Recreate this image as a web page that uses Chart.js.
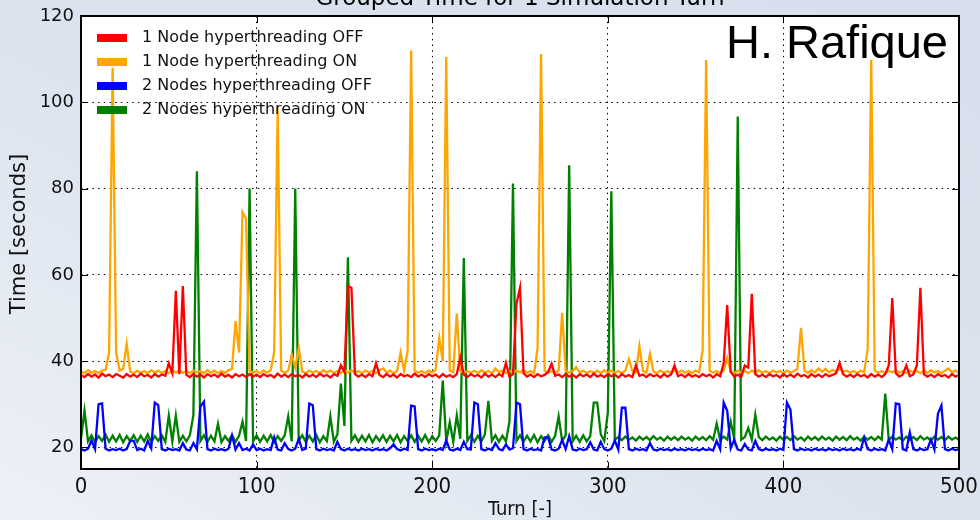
<!DOCTYPE html>
<html>
<head>
<meta charset="utf-8">
<script src="https://cdn.jsdelivr.net/npm/chart.js@4.4.1/dist/chart.umd.min.js"></script>
<style>
  html, body { margin: 0; padding: 0; }
  body {
    width: 980px; height: 520px; overflow: hidden;
    background: linear-gradient(to bottom left, #d7dfec 0%, #dde4ef 55%, #edf1f7 100%);
  }
  canvas { display: block; }
</style>
</head>
<body>
<canvas id="turnChart" width="980" height="520"></canvas>
<script>
// turn axis (every second turn sampled)
const turns = Array.from({ length: 251 }, (_, i) => i * 2);
const xTicks = [0, 100, 200, 300, 400, 500];
const yTicks = [20, 40, 60, 80, 100, 120];

const seriesLabels = [
  '1 Node hyperthreading OFF',
  '1 Node hyperthreading ON',
  '2 Nodes hyperthreading OFF',
  '2 Nodes hyperthreading ON'
];
const seriesColors = ['#ff0000', '#ffa500', '#0000ff', '#008000'];

const node1HtOff = [
  36.8, 36.3, 37.0, 36.4, 36.9, 36.2, 37.1, 36.5, 36.9, 36.3, 37.0, 36.6, 36.2, 37.0, 36.4, 36.9, 36.3, 37.1, 36.5, 36.8, 36.2, 37.0, 36.4, 36.9, 36.6,
  39.5, 37.2, 56.3, 37.0, 57.4, 36.8, 36.3, 37.0, 36.4, 36.9, 36.2, 37.0, 36.5, 36.9, 36.3, 37.1, 36.4, 36.8, 36.2, 37.0, 36.5, 36.9, 36.3, 37.0, 36.4,
  36.9, 36.3, 37.0, 36.5, 36.8, 36.2, 37.1, 36.4, 36.9, 36.3, 37.0, 36.5, 36.8, 36.2, 37.0, 36.4, 36.9, 36.3, 37.1, 36.5, 36.8, 36.2, 37.0, 36.6, 39.0,
  37.5, 57.4, 57.0, 37.0, 36.4, 36.9, 36.3, 37.0, 36.5, 39.5, 36.8, 36.3, 37.0, 36.4, 36.9, 36.2, 37.0, 36.5, 36.8, 36.3, 37.1, 36.4, 36.9, 36.3, 37.0,
  36.5, 36.9, 36.2, 37.0, 36.4, 36.8, 36.3, 37.0, 40.8, 36.9, 36.3, 37.0, 36.5, 36.8, 36.2, 37.1, 36.4, 36.9, 36.3, 37.0, 36.5, 39.6, 36.4, 37.0, 53.3,
  57.0, 37.2, 36.4, 36.9, 36.3, 37.0, 36.5, 36.8, 37.5, 39.4, 36.6, 36.9, 36.3, 37.0, 36.4, 36.8, 36.2, 37.0, 36.5, 36.9, 36.3, 37.1, 36.4, 36.8, 36.3,
  37.0, 36.5, 36.9, 36.2, 37.0, 36.4, 36.8, 36.3, 39.0, 36.6, 36.9, 36.3, 37.0, 36.5, 36.8, 36.2, 37.0, 36.4, 36.9, 39.0, 36.5, 36.9, 36.3, 37.0, 36.4,
  36.8, 36.3, 37.0, 36.5, 36.9, 36.2, 37.0, 36.5, 39.5, 53.0, 37.5, 36.4, 36.9, 36.3, 39.0, 38.5, 55.6, 37.0, 36.4, 36.9, 36.3, 37.0, 36.5, 36.8, 36.2,
  37.0, 36.4, 36.9, 36.3, 37.1, 36.5, 36.8, 36.2, 37.0, 36.4, 36.9, 36.3, 37.0, 36.5, 36.8, 37.2, 39.6, 37.0, 36.4, 36.9, 36.3, 37.0, 36.5, 36.8, 36.2,
  37.0, 36.4, 36.9, 36.3, 37.0, 39.0, 54.6, 37.2, 36.4, 36.9, 39.0, 36.5, 36.9, 39.0, 57.0, 37.0, 36.4, 36.9, 36.3, 37.0, 36.5, 36.8, 36.2, 37.0, 36.4,
  36.8
];

const node1HtOn = [
  37.6, 37.2, 37.9, 37.3, 37.7, 37.2, 37.8, 38.0, 42.0, 108.0, 42.0, 37.8, 38.2, 44.0, 37.6, 37.2, 37.8, 37.3, 37.7, 37.2, 37.9, 37.4, 37.8, 37.3, 37.7,
  37.2, 37.8, 37.4, 37.9, 37.3, 37.7, 37.2, 37.8, 37.4, 37.7, 37.2, 37.9, 37.3, 37.8, 37.2, 37.7, 37.3, 37.9, 38.2, 49.3, 42.0, 74.5, 73.0, 37.8, 37.3,
  37.7, 37.2, 37.8, 37.4, 37.9, 42.0, 98.5, 37.8, 37.3, 37.8, 41.5, 38.5, 43.0, 37.6, 37.2, 37.8, 37.3, 37.7, 37.2, 37.9, 37.4, 37.8, 37.3, 37.7, 37.2,
  37.8, 37.4, 37.9, 37.3, 37.7, 37.2, 37.8, 37.4, 37.7, 37.2, 37.9, 38.3, 37.4, 37.8, 37.2, 37.7, 42.0, 37.8, 42.4, 112.0, 37.8, 37.3, 37.7, 37.2, 37.8,
  37.4, 38.0, 45.4, 40.0, 110.5, 37.8, 37.4, 51.0, 37.8, 37.2, 37.7, 37.3, 37.8, 37.2, 37.9, 37.4, 37.7, 37.2, 38.3, 37.4, 37.8, 37.2, 37.7, 37.3, 37.8,
  37.4, 37.9, 37.3, 37.7, 37.2, 43.0, 111.2, 37.8, 37.3, 37.7, 37.2, 37.8, 51.2, 37.8, 37.3, 37.7, 38.6, 37.4, 37.8, 37.2, 37.7, 37.3, 37.8, 37.2, 37.9,
  37.4, 37.8, 37.3, 37.7, 37.2, 37.8, 40.5, 37.7, 37.4, 43.5, 37.8, 37.3, 41.7, 37.6, 37.2, 37.8, 37.3, 37.7, 37.2, 37.9, 37.4, 37.8, 37.3, 37.7, 37.2,
  37.8, 37.4, 42.4, 109.8, 37.8, 37.3, 37.7, 37.2, 37.8, 40.8, 37.6, 37.2, 37.8, 37.3, 37.7, 37.2, 37.8, 37.4, 37.9, 37.3, 37.7, 37.2, 37.8, 37.4, 37.7,
  37.2, 37.8, 37.3, 37.7, 38.2, 47.7, 37.8, 37.3, 37.9, 37.4, 38.3, 37.5, 38.2, 37.4, 38.0, 37.5, 38.3, 37.6, 37.8, 37.3, 37.7, 37.2, 37.8, 37.4, 42.9,
  109.8, 37.8, 37.3, 37.7, 37.2, 37.8, 37.4, 37.9, 37.3, 37.7, 37.2, 37.8, 37.4, 37.7, 37.2, 37.8, 37.3, 37.9, 37.4, 37.7, 37.2, 37.8, 38.3, 37.4, 37.8,
  37.3
];

const node2HtOff = [
  19.6, 19.3, 19.7, 21.6, 19.6, 30.0, 30.2, 19.7, 19.3, 19.6, 19.4, 19.7, 19.3, 19.6, 21.5, 21.5, 19.4, 19.7, 19.3, 21.5, 19.8, 30.4, 29.8, 19.6, 19.3,
  19.7, 19.4, 19.6, 19.3, 21.0, 19.5, 19.3, 21.0, 19.6, 29.5, 30.6, 19.6, 19.3, 19.7, 19.4, 19.6, 19.3, 19.7, 22.8, 19.5, 21.0, 19.4, 19.7, 19.3, 20.7,
  19.4, 19.7, 19.3, 19.6, 19.4, 22.3, 19.5, 19.3, 21.0, 19.6, 19.3, 19.7, 22.0, 19.4, 19.7, 30.2, 29.8, 19.6, 19.3, 19.7, 19.4, 19.6, 19.3, 21.3, 19.6,
  19.3, 19.7, 19.4, 19.6, 19.3, 19.7, 19.4, 19.6, 19.3, 19.7, 19.4, 19.6, 19.3, 19.8, 20.7, 19.6, 19.3, 19.7, 19.4, 29.7, 29.5, 19.6, 19.3, 19.7, 19.4,
  19.6, 19.3, 19.7, 19.4, 21.6, 19.5, 19.3, 19.7, 19.4, 21.3, 19.6, 19.5, 30.4, 30.0, 19.6, 19.3, 19.7, 19.4, 21.0, 19.6, 19.3, 20.7, 19.5, 19.8, 30.4,
  30.0, 19.6, 19.3, 19.7, 19.4, 19.6, 19.3, 22.3, 22.3, 19.5, 19.3, 19.7, 21.7, 19.6, 22.6, 19.5, 19.3, 19.7, 19.4, 19.6, 21.2, 19.5, 19.3, 21.3, 19.6,
  19.3, 19.7, 21.6, 19.5, 29.2, 29.2, 19.6, 19.3, 19.7, 19.4, 19.6, 19.3, 21.0, 19.5, 19.3, 19.7, 19.4, 19.6, 19.3, 19.7, 19.4, 19.6, 19.3, 19.7, 19.4,
  19.6, 19.3, 19.7, 19.4, 19.6, 19.3, 21.5, 19.6, 30.4, 28.5, 19.8, 21.8, 19.5, 19.3, 20.8, 19.5, 19.3, 21.5, 19.6, 19.3, 19.7, 19.4, 19.6, 19.3, 19.7,
  19.4, 30.4, 28.8, 19.6, 19.3, 19.7, 19.4, 19.6, 19.3, 19.7, 19.4, 19.6, 19.3, 19.7, 19.4, 19.6, 19.3, 19.7, 19.4, 19.6, 19.3, 19.7, 19.4, 22.3, 19.6,
  19.3, 19.7, 19.4, 19.6, 19.3, 21.8, 19.6, 30.2, 30.0, 19.6, 19.3, 23.5, 19.6, 19.3, 19.7, 19.4, 19.6, 21.8, 19.5, 27.8, 29.7, 19.6, 19.3, 19.7, 19.4,
  19.6
];

const node2HtOn = [
  22.0, 28.5, 21.4, 22.8, 21.2, 22.6, 21.5, 23.0, 21.3, 22.7, 21.4, 22.9, 21.2, 22.6, 21.5, 22.8, 21.3, 22.7, 21.4, 23.0, 21.2, 22.6, 21.5, 22.8, 21.3,
  27.4, 21.4, 27.4, 21.3, 22.7, 21.4, 22.8, 27.5, 84.0, 21.5, 22.8, 21.3, 22.7, 21.4, 25.5, 21.2, 22.6, 21.5, 22.8, 21.3, 22.7, 26.0, 21.5, 80.0, 21.4,
  22.8, 21.3, 22.7, 21.4, 22.9, 21.2, 22.6, 21.5, 22.8, 27.2, 21.4, 80.0, 21.5, 22.8, 21.3, 22.7, 21.4, 22.9, 21.2, 22.6, 21.5, 27.2, 21.3, 23.0, 34.8,
  25.0, 64.1, 21.5, 22.8, 21.3, 22.7, 21.4, 22.9, 21.2, 22.6, 21.5, 22.8, 21.3, 22.7, 21.4, 22.9, 21.2, 22.6, 21.5, 22.8, 21.3, 22.7, 21.4, 22.9, 21.2,
  22.6, 21.5, 22.8, 35.5, 21.4, 25.8, 21.3, 27.4, 22.0, 63.9, 21.5, 22.8, 21.3, 22.7, 21.4, 23.0, 30.8, 21.5, 22.8, 21.3, 22.7, 21.4, 26.0, 81.2, 21.5,
  22.8, 21.3, 22.7, 21.4, 22.9, 21.2, 22.6, 21.5, 22.8, 21.3, 22.7, 27.2, 21.5, 22.8, 85.4, 21.4, 22.7, 21.3, 22.8, 21.4, 22.6, 30.4, 30.4, 23.0, 21.5,
  28.0, 79.4, 21.8, 22.4, 21.7, 22.5, 21.8, 22.3, 21.6, 22.5, 21.8, 22.4, 21.7, 22.6, 21.8, 22.3, 21.6, 22.5, 21.8, 22.4, 21.7, 22.5, 21.8, 22.3, 21.6,
  22.5, 21.8, 22.4, 21.7, 22.6, 21.8, 25.5, 21.7, 22.5, 21.8, 26.0, 22.0, 96.7, 21.8, 22.4, 24.5, 21.8, 27.6, 22.4, 21.7, 22.5, 21.8, 22.3, 21.6, 22.5,
  21.8, 22.4, 21.7, 22.6, 21.8, 22.3, 21.6, 22.5, 21.8, 22.4, 21.7, 22.5, 21.8, 22.3, 21.6, 22.5, 21.8, 22.4, 21.7, 22.6, 21.8, 22.3, 21.6, 22.5, 21.8,
  22.4, 21.7, 22.5, 21.8, 32.5, 21.7, 22.5, 21.8, 22.3, 21.6, 22.5, 21.8, 22.4, 21.7, 22.6, 21.8, 22.3, 21.6, 22.5, 21.8, 22.4, 21.7, 22.5, 21.8, 22.3,
  21.8
];

const seriesValues = [node1HtOff, node1HtOn, node2HtOff, node2HtOn];

const framePlugin = {
  id: 'frame',
  beforeDraw(chart) {
    const { ctx, chartArea: a } = chart;
    ctx.save();
    ctx.fillStyle = '#ffffff';
    ctx.fillRect(a.left, a.top, a.right - a.left, a.bottom - a.top);
    ctx.restore();
  },
  afterDatasetsDraw(chart) {
    const { ctx, chartArea: a, scales } = chart;
    ctx.save();
    // inward tick marks on all four sides
    ctx.strokeStyle = '#000';
    ctx.lineWidth = 1;
    ctx.beginPath();
    xTicks.forEach(v => {
      const px = Math.round(scales.x.getPixelForValue(v)) + 0.5;
      ctx.moveTo(px, a.bottom); ctx.lineTo(px, a.bottom - 7);
      ctx.moveTo(px, a.top); ctx.lineTo(px, a.top + 7);
    });
    yTicks.forEach(v => {
      const py = Math.round(scales.y.getPixelForValue(v)) + 0.5;
      ctx.moveTo(a.left, py); ctx.lineTo(a.left + 7, py);
      ctx.moveTo(a.right, py); ctx.lineTo(a.right - 7, py);
    });
    ctx.stroke();
    ctx.lineWidth = 2;
    ctx.strokeRect(a.left, a.top, a.right - a.left, a.bottom - a.top);
    ctx.restore();
  },
  afterDraw(chart) {
    const { ctx, chartArea: a } = chart;
    ctx.save();
    // title, mostly cut off at the top edge
    ctx.fillStyle = '#000';
    ctx.font = '23px "DejaVu Sans"';
    ctx.textAlign = 'center';
    ctx.textBaseline = 'alphabetic';
    ctx.fillText('Grouped Time for 1 Simulation Turn', (a.left + a.right) / 2, 5);

    // y axis title
    ctx.save();
    ctx.translate(20, 234);
    ctx.rotate(-Math.PI / 2);
    ctx.fillStyle = '#111';
    ctx.font = '21px "DejaVu Sans"';
    ctx.textBaseline = 'middle';
    ctx.fillText('Time [seconds]', 0, 0);
    ctx.restore();

    // legend
    ctx.font = '16px "DejaVu Sans"';
    ctx.textAlign = 'left';
    ctx.textBaseline = 'middle';
    chart.data.datasets.forEach((ds, i) => {
      const y = a.top + 22 + i * 24;
      ctx.fillStyle = ds.borderColor;
      ctx.fillRect(a.left + 16, y - 4, 30, 8);
      ctx.fillStyle = '#111';
      ctx.fillText(ds.label, a.left + 61, y);
    });

    // watermark
    ctx.fillStyle = '#000';
    ctx.font = '47px "Liberation Sans", Arial, sans-serif';
    ctx.textAlign = 'right';
    ctx.textBaseline = 'alphabetic';
    ctx.fillText('H. Rafique', a.right - 11, 58);
    ctx.restore();
  }
};

const ctx = document.getElementById('turnChart').getContext('2d');

const chart = new Chart(ctx, {
  type: 'line',
  data: {
    datasets: seriesLabels.map((label, k) => ({
      label: label,
      data: turns.map((t, i) => ({ x: t, y: seriesValues[k][i] })),
      borderColor: seriesColors[k],
      backgroundColor: seriesColors[k],
      borderWidth: 2.3,
      pointRadius: 0,
      fill: false,
      tension: 0
    }))
  },
  options: {
    responsive: false,
    animation: false,
    layout: { padding: { top: 16, right: 21, bottom: 0, left: 0 } },
    plugins: {
      legend: { display: false },
      tooltip: { enabled: false },
      title: { display: false }
    },
    scales: {
      x: {
        type: 'linear',
        min: 0,
        max: 500,
        afterBuildTicks: (scale) => { scale.ticks = xTicks.map(v => ({ value: v })); },
        afterFit: (scale) => {
          scale.height = 51;
          scale.paddingLeft = 0;
          scale.paddingRight = 0;
        },
        grid: { color: '#000', lineWidth: 1, drawTicks: false },
        border: { display: false, dash: [1.5, 4.2] },
        ticks: {
          color: '#111',
          padding: 5,
          maxRotation: 0,
          font: { family: '"DejaVu Sans Condensed", "DejaVu Sans"', size: 22 }
        },
        title: {
          display: true,
          text: 'Turn [-]',
          color: '#111',
          padding: { bottom: 0 },
          font: { family: '"DejaVu Sans Condensed", "DejaVu Sans"', size: 20, lineHeight: 1 }
        }
      },
      y: {
        min: 15,
        max: 120,
        afterBuildTicks: (scale) => { scale.ticks = yTicks.map(v => ({ value: v })); },
        afterFit: (scale) => {
          scale.width = 81;
          scale.paddingTop = 0;
          scale.paddingBottom = 0;
        },
        grid: { color: '#000', lineWidth: 1, drawTicks: false },
        border: { display: false, dash: [1.5, 4.2] },
        ticks: {
          color: '#111',
          padding: 7,
          font: { family: '"DejaVu Sans"', size: 18 }
        },
        title: { display: false }
      }
    }
  },
  plugins: [framePlugin]
});
</script>
</body>
</html>
